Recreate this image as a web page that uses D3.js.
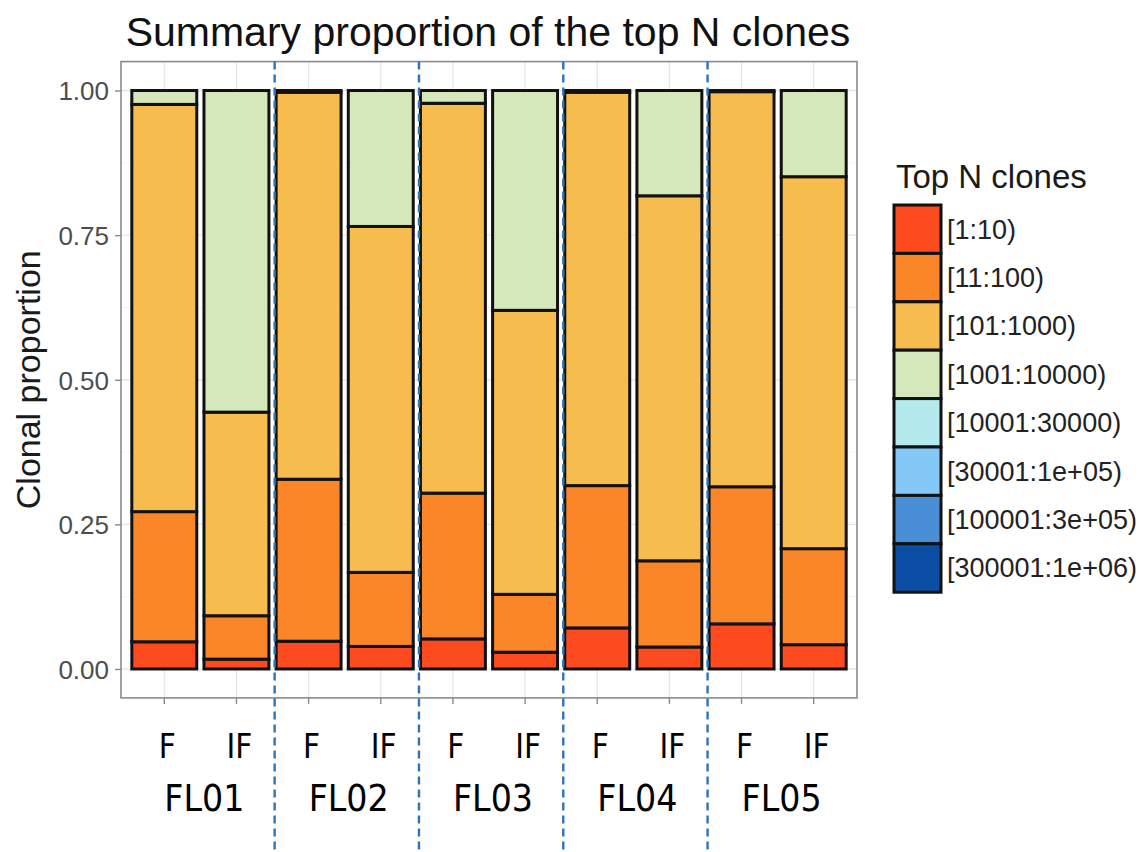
<!DOCTYPE html>
<html>
<head>
<meta charset="utf-8">
<script src="https://cdn.jsdelivr.net/npm/d3@7"></script>
<style>
  html, body { margin: 0; padding: 0; background: #ffffff; }
  svg { display: block; }
</style>
</head>
<body>
<svg id="chart" width="1147" height="852"></svg>
<script>
// Patients and tissue type of each sample (F / IF)
const patients = ["FL01", "FL02", "FL03", "FL04", "FL05"];
const tissues = ["F", "IF"];

// Clone-rank groups, from most to least abundant clones
const cloneGroups = [
  "[1:10)", "[11:100)", "[101:1000)", "[1001:10000)",
  "[10001:30000)", "[30001:1e+05)", "[100001:3e+05)", "[300001:1e+06)"
];
const groupColors = [
  "#fd4b1f", "#fa8628", "#f6bc4d", "#d5e8bb",
  "#b4eaed", "#84c8f8", "#4b8ed8", "#0b4ea6"
];

// Proportion of all reads held by each clone group, per sample
// (order: FL01 F, FL01 IF, FL02 F, FL02 IF, ... FL05 IF)
const top1to10        = [0.047, 0.017, 0.048, 0.039, 0.052, 0.029, 0.071, 0.038, 0.078, 0.042];
const top11to100      = [0.225, 0.075, 0.280, 0.128, 0.252, 0.100, 0.246, 0.149, 0.237, 0.166];
const top101to1000    = [0.704, 0.352, 0.669, 0.598, 0.674, 0.491, 0.680, 0.631, 0.683, 0.643];
const top1001to10000  = [0.024, 0.556, 0.003, 0.235, 0.022, 0.380, 0.003, 0.182, 0.002, 0.149];
const top10001to30000 = [0, 0, 0, 0, 0, 0, 0, 0, 0, 0];
const top30001to1e5   = [0, 0, 0, 0, 0, 0, 0, 0, 0, 0];
const top100001to3e5  = [0, 0, 0, 0, 0, 0, 0, 0, 0, 0];
const top300001to1e6  = [0, 0, 0, 0, 0, 0, 0, 0, 0, 0];

const yTicks = [0, 0.25, 0.5, 0.75, 1];
const yTickLabels = ["0.00", "0.25", "0.50", "0.75", "1.00"];

const seriesValues = [top1to10, top11to100, top101to1000, top1001to10000,
  top10001to30000, top30001to1e5, top100001to3e5, top300001to1e6];

// One row per sample
const samples = [];
patients.forEach(p => tissues.forEach(t => samples.push({ id: p + "_" + t, patient: p, tissue: t })));
const rows = samples.map((s, i) => {
  const r = { id: s.id };
  cloneGroups.forEach((g, k) => { r[g] = seriesValues[k][i]; });
  return r;
});

const svg = d3.select("#chart");
const panel = { left: 121, right: 857, top: 61.6, bottom: 697.9 };

const x = d3.scaleBand()
  .domain(samples.map(s => s.id))
  .range([panel.left, panel.right])
  .paddingInner(0.1)
  .paddingOuter(0.15);

const y = d3.scaleLinear()
  .domain([-0.05, 1.05])
  .range([panel.bottom, panel.top]);

// Panel grid
const grid = svg.append("g");
const minor = [0.125, 0.375, 0.625, 0.875];
grid.selectAll("line.minor").data(minor).join("line")
  .attr("x1", panel.left).attr("x2", panel.right)
  .attr("y1", d => y(d)).attr("y2", d => y(d))
  .attr("stroke", "#f0f0f0").attr("stroke-width", 0.8);
grid.selectAll("line.hmajor").data(yTicks).join("line")
  .attr("x1", panel.left).attr("x2", panel.right)
  .attr("y1", d => y(d)).attr("y2", d => y(d))
  .attr("stroke", "#e6e6e6").attr("stroke-width", 1.3);
grid.selectAll("line.vmajor").data(samples).join("line")
  .attr("x1", d => x(d.id) + x.bandwidth() / 2).attr("x2", d => x(d.id) + x.bandwidth() / 2)
  .attr("y1", panel.top).attr("y2", panel.bottom)
  .attr("stroke", "#e6e6e6").attr("stroke-width", 1.3);

// Stacked bars
const stacked = d3.stack().keys(cloneGroups)(rows);
const color = d3.scaleOrdinal().domain(cloneGroups).range(groupColors);

svg.append("g").selectAll("g").data(stacked).join("g")
  .attr("fill", d => color(d.key))
  .selectAll("rect").data(d => d).join("rect")
  .attr("x", d => x(d.data.id))
  .attr("width", x.bandwidth())
  .attr("y", d => y(d[1]))
  .attr("height", d => Math.max(0, y(d[0]) - y(d[1])))
  .attr("stroke", "#111")
  .attr("stroke-width", 3);

// Panel border
svg.append("rect")
  .attr("x", panel.left).attr("y", panel.top)
  .attr("width", panel.right - panel.left).attr("height", panel.bottom - panel.top)
  .attr("fill", "none").attr("stroke", "#8a8a8a").attr("stroke-width", 1.6);

// Y axis
const yAxis = d3.axisLeft(y)
  .tickValues(yTicks)
  .tickFormat((d, i) => yTickLabels[i])
  .tickSize(6)
  .tickPadding(6);
const gy = svg.append("g").attr("transform", `translate(${panel.left},0)`).call(yAxis);
gy.select(".domain").remove();
gy.selectAll(".tick line").attr("stroke", "#8a8a8a").attr("stroke-width", 1.4);
gy.selectAll(".tick text")
  .attr("font-family", "'Liberation Sans', Arial, sans-serif")
  .attr("font-size", 26).attr("fill", "#4d4d4d")
  .attr("dy", "0.36em");

// X axis ticks (labels drawn separately below)
const xAxis = d3.axisBottom(x).tickSize(6).tickFormat("");
const gx = svg.append("g").attr("transform", `translate(0,${panel.bottom})`).call(xAxis);
gx.select(".domain").remove();
gx.selectAll(".tick line").attr("stroke", "#8a8a8a").attr("stroke-width", 1.4);

// Tissue labels and patient labels
const labelFont = "'Liberation Sans Narrow', 'DejaVu Sans Condensed', 'Liberation Sans', sans-serif";
svg.append("g").selectAll("text").data(samples).join("text")
  .attr("x", d => x(d.id) + x.bandwidth() / 2 + 3)
  .attr("y", 758)
  .attr("text-anchor", "middle")
  .attr("font-family", labelFont)
  .attr("font-size", 33)
  .attr("fill", "#000")
  .text(d => d.tissue);

svg.append("g").selectAll("text").data(patients).join("text")
  .attr("x", p => (x(p + "_F") + x(p + "_IF") + x.bandwidth()) / 2 + 4)
  .attr("y", 811)
  .attr("text-anchor", "middle")
  .attr("font-family", labelFont)
  .attr("font-size", 37)
  .attr("fill", "#000")
  .text(p => p);

// Dashed separators between patients
svg.append("g").selectAll("line").data(patients.slice(1)).join("line")
  .attr("x1", p => x(p + "_F") - 1.5)
  .attr("x2", p => x(p + "_F") - 1.5)
  .attr("y1", panel.top)
  .attr("y2", 852)
  .attr("stroke", "#2e75b6")
  .attr("stroke-width", 2.4)
  .attr("stroke-dasharray", "8,5");

// Titles
svg.append("text")
  .attr("x", 488).attr("y", 46)
  .attr("text-anchor", "middle")
  .attr("font-family", "'Liberation Sans', Arial, sans-serif")
  .attr("font-size", 41).attr("fill", "#111")
  .text("Summary proportion of the top N clones");

svg.append("text")
  .attr("transform", `translate(40,${(y(0) + y(1)) / 2}) rotate(-90)`)
  .attr("text-anchor", "middle")
  .attr("font-family", "'Liberation Sans', Arial, sans-serif")
  .attr("font-size", 34).attr("fill", "#1a1a1a")
  .text("Clonal proportion");

// Legend
const legend = svg.append("g");
legend.append("text")
  .attr("x", 896).attr("y", 188)
  .attr("font-family", "'Liberation Sans', Arial, sans-serif")
  .attr("font-size", 33).attr("fill", "#1a1a1a")
  .text("Top N clones");

const keyH = 48.4, keyTop = 205, keyX = 894, keyW = 47;
const keys = legend.selectAll("g.key").data(cloneGroups).join("g")
  .attr("transform", (d, i) => `translate(0,${keyTop + i * keyH})`);
keys.append("rect")
  .attr("x", keyX).attr("y", 0)
  .attr("width", keyW).attr("height", keyH)
  .attr("fill", d => color(d))
  .attr("stroke", "#111").attr("stroke-width", 3);
keys.append("text")
  .attr("x", 947).attr("y", keyH / 2 + 9.5)
  .attr("font-family", "'Liberation Sans', Arial, sans-serif")
  .attr("font-size", 27).attr("fill", "#222")
  .text(d => d);
</script>
</body>
</html>
